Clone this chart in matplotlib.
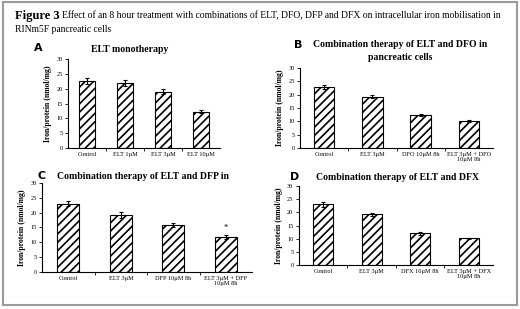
import numpy as np
import matplotlib.pyplot as plt
from matplotlib.patches import Rectangle

plt.rcParams['font.family'] = ['Liberation Serif', 'DejaVu Serif']
plt.rcParams['hatch.linewidth'] = 1.2

# panel data
labels_a = ['Control', 'ELT 1\u00b5M', 'ELT 3\u00b5M', 'ELT 10\u00b5M']
values_a = [22.7, 21.8, 19.0, 12.2]
errors_a = [1.0, 1.0, 0.9, 0.5]

labels_b = ['Control', 'ELT 3\u00b5M', 'DFO 10\u00b5M 8h', 'ELT 3\u00b5M + DFO\n10\u00b5M 8h']
values_b = [22.8, 19.2, 12.3, 10.1]
errors_b = [0.8, 0.6, 0.4, 0.4]

labels_c = ['Control', 'ELT 3\u00b5M', 'DFP 10\u00b5M 8h', 'ELT 3\u00b5M + DFP\n10\u00b5M 8h']
values_c = [23.0, 19.2, 15.8, 11.7]
errors_c = [0.8, 0.9, 0.7, 0.6]

labels_d = ['Control', 'ELT 3\u00b5M', 'DFX 10\u00b5M 8h', 'ELT 3\u00b5M + DFX\n10\u00b5M 8h']
values_d = [23.0, 19.3, 12.0, 10.1]
errors_d = [0.8, 0.6, 0.4, 0.3]

fig = plt.figure(figsize=(5.2, 3.09), dpi=100)

# grey frame round the figure
fig.patches.append(Rectangle((0.006, 0.012), 0.988, 0.982, transform=fig.transFigure,
                             fill=False, edgecolor='#9a9a9a', linewidth=1.5))

fig.text(0.028, 0.948, 'Figure 3', fontsize=9, fontweight='bold', va='center')
fig.text(0.12, 0.948, 'Effect of an 8 hour treatment with combinations of ELT, DFO, DFP and DFX on intracellular iron mobilisation in',
         fontsize=6.9, va='center')
fig.text(0.028, 0.905, 'RINm5F pancreatic cells', fontsize=6.9, va='center')


def draw_panel(rect, labels, values, errors, star=False):
    ax = fig.add_axes(rect)
    x = np.arange(len(values))
    ax.bar(x, values, width=0.42, color='white', edgecolor='black', hatch='////',
           linewidth=0.8, yerr=errors, error_kw=dict(ecolor='black', elinewidth=0.8, capsize=1.5, capthick=0.8))
    ax.set_xlim(-0.5, len(values) - 0.5)
    ax.set_ylim(0, 30)
    ax.set_yticks(range(0, 31, 5))
    ax.set_xticks(x)
    ax.set_xticklabels(labels, fontsize=4.5, linespacing=1.0)
    ax.set_xticks(np.arange(0.5, len(values) - 0.5, 1), minor=True)
    ax.tick_params(axis='x', which='major', length=0, pad=3)
    ax.tick_params(axis='x', which='minor', length=2, width=0.6)
    ax.tick_params(axis='y', labelsize=4.5, length=2, width=0.6, pad=2)
    ax.set_ylabel('Iron/protein (nmol/mg)', fontsize=5.6, fontweight='bold', labelpad=3)
    for s in ['top', 'right']:
        ax.spines[s].set_visible(False)
    for s in ['left', 'bottom']:
        ax.spines[s].set_linewidth(0.8)
    if star:
        ax.text(x[-1], values[-1] + errors[-1] + 1.2, '*', ha='center', va='bottom', fontsize=6)
    return ax


draw_panel([0.131, 0.521, 0.292, 0.288], labels_a, values_a, errors_a)
draw_panel([0.577, 0.521, 0.371, 0.259], labels_b, values_b, errors_b)
draw_panel([0.081, 0.120, 0.404, 0.288], labels_c, values_c, errors_c, star=True)
draw_panel([0.575, 0.142, 0.373, 0.256], labels_d, values_d, errors_d)

# panel letters and titles
letter_kw = dict(fontsize=8, fontweight='bold', family='DejaVu Sans', va='center')
title_kw = dict(fontsize=7, fontweight='bold', va='center')

fig.text(0.065, 0.845, 'A', **letter_kw)
fig.text(0.25, 0.84, 'ELT monotherapy', ha='center', **title_kw)

fig.text(0.565, 0.855, 'B', **letter_kw)
fig.text(0.77, 0.855, 'Combination therapy of ELT and DFO in', ha='center', **title_kw)
fig.text(0.77, 0.815, 'pancreatic cells', ha='center', **title_kw)

fig.text(0.072, 0.43, 'C', **letter_kw)
fig.text(0.275, 0.43, 'Combination therapy of ELT and DFP in', ha='center', **title_kw)

fig.text(0.558, 0.427, 'D', **letter_kw)
fig.text(0.765, 0.427, 'Combination therapy of ELT and DFX', ha='center', **title_kw)

fig.savefig('out.png', dpi=100)
